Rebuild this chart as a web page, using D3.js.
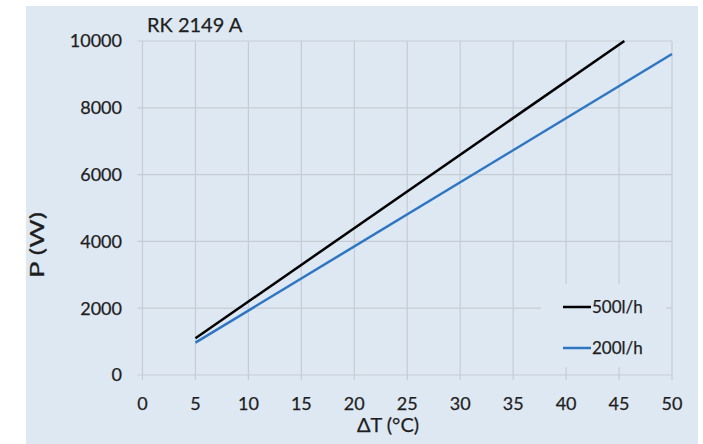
<!DOCTYPE html>
<html>
<head>
<meta charset="utf-8">
<script src="https://cdn.jsdelivr.net/npm/d3@7"></script>
<style>
  body { margin: 0; background: #ffffff; }
  text { font-family: Lato, "Open Sans", sans-serif; fill: #1e1e1e; stroke: #1e1e1e; stroke-width: 0.25px; }
</style>
</head>
<body>
<svg id="chart" width="703" height="444"></svg>
<script>
const title = "RK 2149 A";
const xTicks = [0, 5, 10, 15, 20, 25, 30, 35, 40, 45, 50];
const yTicks = [0, 2000, 4000, 6000, 8000, 10000];
const seriesNames = ["500l/h", "200l/h"];
const seriesColors = ["#000000", "#2f76c2"];
const dT500 = [5, 45.5];
const p500 = [1100, 10000];
const dT200 = [5, 50];
const p200 = [970, 9610];

const svg = d3.select("#chart");
const W = 703, H = 444;
const margin = {left: 142.5, right: 31, top: 41, bottom: 69};

svg.append("rect").attr("x", 26).attr("y", 6).attr("width", 672).attr("height", 438)
  .attr("fill", "#dee8f3");

const x = d3.scaleLinear().domain([0, 50]).range([margin.left, W - margin.right]);
const y = d3.scaleLinear().domain([0, 10000]).range([H - margin.bottom, margin.top]);

const gridColor = "#c6ccd4";
svg.append("g").selectAll("line").data(xTicks).join("line")
  .attr("x1", d => x(d)).attr("x2", d => x(d))
  .attr("y1", y(10000)).attr("y2", y(0) + 5)
  .attr("stroke", gridColor).attr("stroke-width", 1.2);
svg.append("g").selectAll("line").data(yTicks).join("line")
  .attr("x1", x(0) - 5).attr("x2", x(50))
  .attr("y1", d => y(d)).attr("y2", d => y(d))
  .attr("stroke", gridColor).attr("stroke-width", 1.2);

svg.append("g").selectAll("text").data(yTicks).join("text")
  .attr("x", 122).attr("y", d => y(d)).attr("dy", "0.36em")
  .attr("text-anchor", "end").attr("font-size", 18).text(d => d);
svg.append("g").selectAll("text").data(xTicks).join("text")
  .attr("x", d => x(d)).attr("y", 410)
  .attr("text-anchor", "middle").attr("font-size", 18).text(d => d);

svg.append("text").attr("x", 388).attr("y", 432).attr("text-anchor", "middle")
  .attr("font-size", 20).text("ΔT (°C)");
svg.append("text").attr("transform", "translate(44,245) rotate(-90)")
  .attr("text-anchor", "middle").attr("font-size", 20)
  .attr("textLength", 66).attr("lengthAdjust", "spacingAndGlyphs").text("P (W)");
svg.append("text").attr("x", 147).attr("y", 32).attr("font-size", 20).text(title);

const line = d3.line().x(d => x(d[0])).y(d => y(d[1]));
const data500 = dT500.map((d, i) => [d, p500[i]]);
const data200 = dT200.map((d, i) => [d, p200[i]]);
svg.append("path").datum(data500).attr("d", line).attr("fill", "none")
  .attr("stroke", seriesColors[0]).attr("stroke-width", 2.5);
svg.append("path").datum(data200).attr("d", line).attr("fill", "none")
  .attr("stroke", seriesColors[1]).attr("stroke-width", 2.5);

svg.append("rect").attr("x", 541).attr("y", 284).attr("width", 125).attr("height", 83)
  .attr("fill", "#dee8f3");
const legY = [307, 348];
seriesNames.forEach((n, i) => {
  svg.append("line").attr("x1", 563).attr("x2", 591).attr("y1", legY[i]).attr("y2", legY[i])
    .attr("stroke", seriesColors[i]).attr("stroke-width", 2.5);
  svg.append("text").attr("x", 592).attr("y", legY[i]).attr("dy", "0.36em")
    .attr("font-size", 17).text(n);
});
</script>
</body>
</html>
